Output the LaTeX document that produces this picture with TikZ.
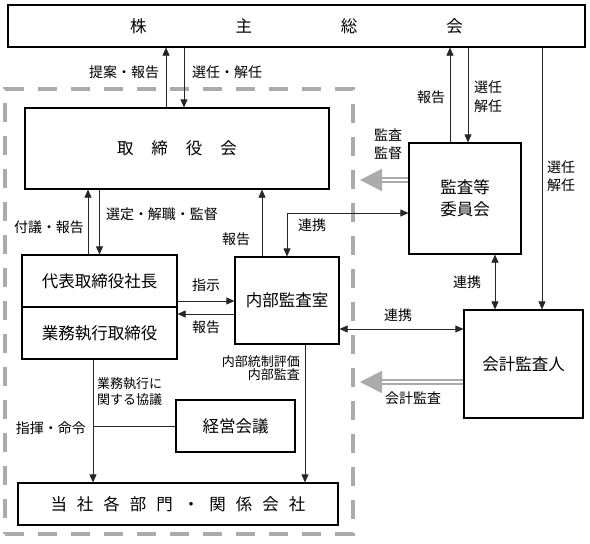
\documentclass[tikz,border=0pt]{standalone}
\usepackage{fontspec}
\setmainfont{Noto Sans CJK JP}
\usetikzlibrary{arrows.meta}
\tikzset{
  box/.style = {draw=black, line width=1.2pt, align=center, inner sep=0pt, font=\fontsize{16.5}{20}\selectfont},
  lbl/.style = {align=center, inner sep=0pt, font=\fontsize{14}{18}\selectfont},
  conn/.style = {draw=black!85, line width=0.7pt},
  arr/.style = {conn, -{Triangle[length=8pt,width=7pt]}},
  arrb/.style = {conn, {Triangle[length=8pt,width=7pt]}-{Triangle[length=8pt,width=7pt]}},
  grayarr/.style = {draw=black!33, double=white, double distance=2pt, line width=1.8pt, -{Triangle[length=22pt,width=22pt]}},
  dashbox/.style = {draw=black!33, line width=4pt, dash pattern=on 19pt off 14pt},
}

\begin{document}
\begin{tikzpicture}[x=1pt, y=-1pt]
  \useasboundingbox (0,0) rectangle (590,544);

  % group frame
  \node [dashbox, minimum width=348pt, minimum height=445pt] (shanai) at (179,311.5) {};

  % boxes
  \node [box, minimum width=577pt, minimum height=42pt] (soukai) at (296.5,26)
    {株\hspace{89pt}主\hspace{89pt}総\hspace{89pt}会};
  \node [box, minimum width=304pt, minimum height=81pt] (torishimari) at (177,148.5)
    {取\hspace{18pt}締\hspace{18pt}役\hspace{18pt}会};
  \node [box, minimum width=155pt, minimum height=52pt] (daihyo) at (99.5,281) {代表取締役社長};
  \node [box, minimum width=155pt, minimum height=52pt] (gyomu) at (99.5,333) {業務執行取締役};
  \node [box, minimum width=104pt, minimum height=87pt] (naibu) at (287,300.5) {内部監査室};
  \node [box, minimum width=112pt, minimum height=111pt] (kansa) at (465,198.5) {監査等\\[2pt]委員会};
  \node [box, minimum width=119pt, minimum height=108pt] (kaikei) at (523.5,364) {会計監査人};
  \node [box, minimum width=119pt, minimum height=52pt] (keiei) at (235.5,426) {経営会議};
  \node [box, minimum width=320pt, minimum height=42pt] (bumon) at (178,504)
    {当\hspace{10pt}社\hspace{10pt}各\hspace{10pt}部\hspace{10pt}門\hspace{10pt}・\hspace{10pt}関\hspace{10pt}係\hspace{10pt}会\hspace{10pt}社};

  % shareholders -- board
  \draw [arr] ([xshift=-11pt]torishimari.north) -- ([xshift=-11pt]torishimari.north |- soukai.south);
  \draw [arr] ([xshift=7pt]torishimari.north |- soukai.south) -- ([xshift=7pt]torishimari.north);
  \node [lbl] (l_teian) at (124,72) {提案・報告};
  \node [lbl] (l_sennin) at (227,72) {選任・解任};

  % board -- president
  \draw [arr] ([xshift=-11.5pt]daihyo.north) -- ([xshift=-11.5pt]daihyo.north |- torishimari.south);
  \draw [arr] (daihyo.north |- torishimari.south) -- (daihyo.north);
  \node [lbl] (l_fugi) at (49,227) {付議・報告};
  \node [lbl] (l_sentei) at (162,214) {選定・解職・監督};

  % internal audit
  \draw [arr] ([xshift=-25pt]naibu.north) -- ([xshift=-25pt]naibu.north |- torishimari.south);
  \node [lbl] (l_houkoku1) at (236,239) {報告};
  \draw [arr] ([yshift=-20pt]daihyo.east) -- ([yshift=-20pt]daihyo.east -| naibu.west);
  \node [lbl] (l_shiji) at (206,285) {指示};
  \draw [arr] ([yshift=-13.5pt]naibu.west) -- ([yshift=-13.5pt]naibu.west -| gyomu.east);
  \node [lbl] (l_houkoku2) at (206,327) {報告};
  \draw [arrb] ([yshift=-14.5pt]kansa.west) -| (naibu.north);
  \node [lbl] (l_renkei1) at (312,225) {連携};
  \draw [arrb] ([yshift=-28.5pt]naibu.east) -- ([yshift=-28.5pt]naibu.east -| kaikei.west);
  \node [lbl] (l_renkei2) at (398,315) {連携};

  % audit committee
  \draw [arr] ([xshift=-15pt]kansa.north) -- ([xshift=-15pt]kansa.north |- soukai.south);
  \draw [arr] ([xshift=3pt]kansa.north |- soukai.south) -- ([xshift=3pt]kansa.north);
  \node [lbl] (l_houkoku3) at (431,97) {報告};
  \node [lbl, align=left, font=\fontsize{14}{19}\selectfont] (l_sennin2) at (488,97) {選任\\解任};
  \draw [arrb] ([xshift=30pt]kansa.south) -- ([xshift=30pt]kansa.south |- kaikei.north);
  \node [lbl] (l_renkei3) at (467,282) {連携};
  \draw [grayarr] ([yshift=18.5pt]kansa.west) -- ([yshift=18.5pt,xshift=5pt]kansa.west -| shanai.east);
  \node [lbl] (l_kansa) at (388,144) {監査\\監督};

  % accounting auditor
  \draw [arr] ([xshift=18.5pt]kaikei.north |- soukai.south) -- ([xshift=18.5pt]kaikei.north);
  \node [lbl] (l_sennin3) at (561,176) {選任\\解任};
  \draw [grayarr] ([yshift=-18pt]kaikei.west) -- ([yshift=-18pt,xshift=5pt]kaikei.west -| shanai.east);
  \node [lbl] (l_kaikei) at (413,398) {会計監査};

  % execution lines
  \coordinate (gdown) at ([xshift=-6.5pt]gyomu.south);
  \draw [arr] (gdown) -- (gdown |- bumon.north);
  \draw [conn] (keiei.west) -- (keiei.west -| gdown);
  \node [lbl, align=left, anchor=west, font=\fontsize{13}{16.5}\selectfont] (l_kyougi) at (97,391.5) {業務執行に\\関する協議};
  \node [lbl] (l_shiki) at (51,428) {指揮・命令};
  \draw [arr] ([xshift=18pt]naibu.south) -- ([xshift=18pt]naibu.south |- bumon.north);
  \node [lbl, align=right, anchor=east, font=\fontsize{13}{13}\selectfont] (l_naibu) at (300,368) {内部統制評価\\内部監査};
\end{tikzpicture}
\end{document}
